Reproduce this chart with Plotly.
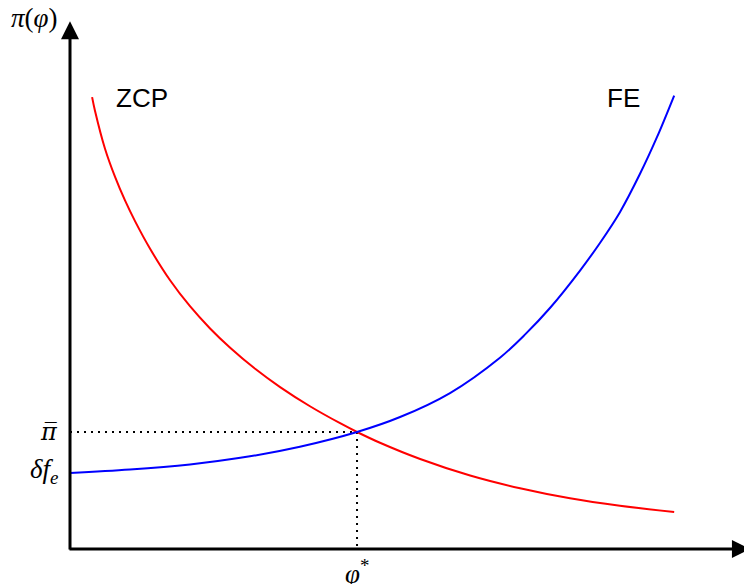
import plotly.graph_objects as go

# equilibrium values (phi* and pi-bar normalised to 1)
phi_star = 1.0
pi_bar = 1.0
delta_fe = 0.65

# ZCP curve (zero cutoff profit)
zcp_phi = [0.077, 0.087, 0.122, 0.157, 0.192, 0.227, 0.279, 0.348, 0.418, 0.488,
           0.558, 0.645, 0.732, 0.836, 0.941, 1.000, 1.080, 1.220, 1.394, 1.568,
           1.742, 1.916, 2.105]
zcp_pi = [3.862, 3.746, 3.421, 3.180, 2.977, 2.800, 2.566, 2.299, 2.075, 1.885,
          1.720, 1.540, 1.384, 1.220, 1.075, 1.000, 0.908, 0.769, 0.628, 0.519,
          0.433, 0.369, 0.316]

# FE curve (free entry)
fe_phi = [0.0, 0.209, 0.418, 0.627, 0.801, 1.000, 1.150, 1.324, 1.498, 1.585,
          1.673, 1.777, 1.847, 1.916, 1.986, 2.045, 2.105]
fe_pi = [0.650, 0.679, 0.723, 0.792, 0.874, 1.000, 1.128, 1.333, 1.635, 1.832,
         2.062, 2.380, 2.618, 2.879, 3.207, 3.520, 3.876]

fig = go.Figure()

# dotted guide lines to the intersection
fig.add_trace(go.Scatter(x=[0, phi_star, phi_star], y=[pi_bar, pi_bar, 0],
                         mode='lines', line=dict(color='black', width=2, dash='2px,5px'),
                         hoverinfo='skip'))

fig.add_trace(go.Scatter(x=zcp_phi, y=zcp_pi, mode='lines', name='ZCP',
                         line=dict(color='red', width=2, shape='spline', smoothing=1)))
fig.add_trace(go.Scatter(x=fe_phi, y=fe_pi, mode='lines', name='FE',
                         line=dict(color='blue', width=2, shape='spline', smoothing=1)))

serif = dict(family='Liberation Serif', size=27, color='black')
sans = dict(family='Liberation Sans', size=26, color='black')

annotations = [
    # axes with arrowheads
    dict(x=2.369, y=0, ax=-0.007, ay=0, axref='x', ayref='y', text='',
         showarrow=True, arrowhead=2, arrowsize=1.2, arrowwidth=3, arrowcolor='black'),
    dict(x=0, y=4.51, ax=0, ay=-0.017, axref='x', ayref='y', text='',
         showarrow=True, arrowhead=2, arrowsize=1.2, arrowwidth=3, arrowcolor='black'),
    # curve labels
    dict(x=0.25, y=3.855, text='ZCP', showarrow=False, font=sans),
    dict(x=1.93, y=3.855, text='FE', showarrow=False, font=sans),
    # axis labels
    dict(x=-0.125, y=4.54, text='<i>π</i>(<i>φ</i>)', showarrow=False, font=serif),
    dict(x=2.345, y=-0.2, text='<i>φ</i>', showarrow=False, font=serif, xanchor='left'),
    dict(x=-0.035, y=pi_bar, text='<i>π̅</i>', showarrow=False,
         font=dict(family='DejaVu Serif', size=24, color='black'), xanchor='right'),
    dict(x=-0.035, y=delta_fe + 0.02, text='<i>δf</i><sub><i>e</i></sub>', showarrow=False,
         font=serif, xanchor='right'),
    dict(x=phi_star, y=-0.2, text='<i>φ</i><sup>*</sup>', showarrow=False, font=serif),
]

# the page adds an 8px body margin, so the ranges are shifted to compensate
fig.update_layout(
    width=752, height=584,
    margin=dict(l=0, r=0, t=0, b=0),
    plot_bgcolor='white', paper_bgcolor='white',
    showlegend=False,
    xaxis=dict(range=[-0.216, 2.404], visible=False),
    yaxis=dict(range=[-0.3675, 4.624], visible=False),
    annotations=annotations,
)

fig.write_html("out.html")
